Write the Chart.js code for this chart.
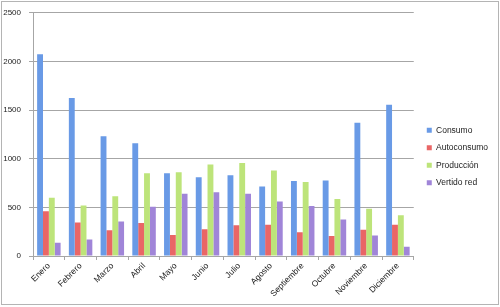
<!DOCTYPE html>
<html>
<head>
<meta charset="utf-8">
<script src="https://cdn.jsdelivr.net/npm/chart.js@4"></script>
<style>
  html, body { margin: 0; padding: 0; background: #ffffff; }
  #wrap { position: relative; width: 500px; height: 307px; }
  #frame { position: absolute; left: 1px; top: 1px; width: 496px; height: 302px; border: 1px solid #b4b4b4; pointer-events: none; }
  canvas { position: absolute; left: 0; top: 0; }
</style>
</head>
<body>
<div id="wrap">
  <canvas id="c" width="500" height="307"></canvas>
  <div id="frame"></div>
</div>
<script>
const categories = ["Enero","Febrero","Marzo","Abril","Mayo","Junio","Julio","Agosto","Septiembre","Octubre","Noviembre","Diciembre"];
const consumo      = [2075, 1625, 1230, 1160, 850, 810, 830, 715, 770, 775, 1370, 1555];
const autoconsumo  = [460, 345, 265, 340, 215, 275, 315, 320, 245, 205, 270, 320];
const produccion   = [600, 520, 615, 850, 860, 940, 955, 880, 760, 585, 485, 420];
const vertidoRed   = [135, 170, 355, 505, 640, 655, 640, 560, 515, 375, 210, 95];
const seriesNames  = ["Consumo", "Autoconsumo", "Producción", "Vertido red"];
const yTicks       = [0, 500, 1000, 1500, 2000, 2500];

const colors = ["#699ae6", "#e96666", "#bde47a", "#a085d8"];
const values = [consumo, autoconsumo, produccion, vertidoRed];

const datasets = seriesNames.map((name, i) => ({
  label: name,
  data: values[i],
  backgroundColor: colors[i],
  borderWidth: 0,
  barPercentage: 1.0,
  categoryPercentage: 0.74
}));

const gridColor = "#a6a6a6";
const font = "'Liberation Sans', Arial, sans-serif";

new Chart(document.getElementById("c"), {
  type: "bar",
  data: { labels: categories, datasets },
  options: {
    responsive: false,
    animation: false,
    devicePixelRatio: 1,
    layout: { padding: { top: 12, right: 2, bottom: 6, left: 0 } },
    plugins: {
      tooltip: { enabled: false },
      legend: {
        position: "right",
        align: "center",
        labels: {
          boxWidth: 5,
          boxHeight: 5,
          padding: 9,
          color: "#222",
          font: { family: font, size: 8.5 }
        }
      }
    },
    scales: {
      x: {
        offset: true,
        grid: { display: true, drawOnChartArea: false, drawTicks: true, tickLength: 4, color: gridColor, offset: true },
        border: { display: true, color: gridColor, width: 1 },
        ticks: {
          maxRotation: 45, minRotation: 45, autoSkip: false, padding: 1,
          color: "#222", font: { family: font, size: 8.5 }
        },
        afterFit: s => { s.height = 45; }
      },
      y: {
        min: 0, max: 2500,
        afterBuildTicks: s => { s.ticks = yTicks.map(v => ({ value: v })); },
        grid: { display: true, drawOnChartArea: true, drawTicks: true, tickLength: 4, color: gridColor, lineWidth: 1 },
        border: { display: true, color: gridColor, width: 1 },
        ticks: { padding: 8, color: "#222", font: { family: font, size: 8 }, callback: v => String(v) },
        afterFit: s => { s.width = 33; }
      },
      gap: {
        position: "right",
        display: true,
        grid: { display: false },
        border: { display: false },
        ticks: { display: false },
        afterFit: s => { s.width = 4; }
      }
    }
  }
});
</script>
</body>
</html>
